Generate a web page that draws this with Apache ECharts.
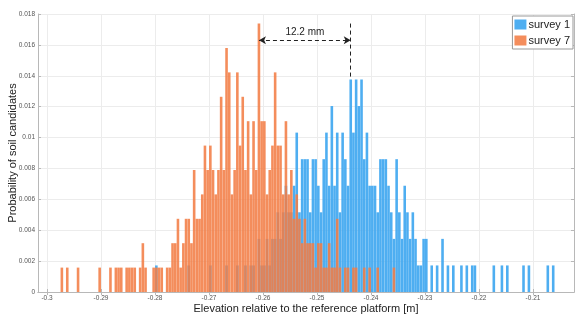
<!DOCTYPE html>
<html><head><meta charset="utf-8">
<script src="https://cdn.jsdelivr.net/npm/echarts@6/dist/echarts.min.js"></script>
<style>html,body{margin:0;padding:0;background:#fff}#c{width:575px;height:320px}</style>
</head><body><div id="c"></div>
<script>
// histogram bins
const binStart = -0.3;
const binWidth = 0.0005;

// survey 1 probabilities per bin (index 0 = first bin)
const survey1 = [
0,0,0,0,0,0,0,0,0,0,
0,0,0,0,0,0,0,0,0,0,
0,0,0,0,0,0,0,0,0,0,
0,0,0,0,0,0,0,0,0,0,
0.00172,0,0,0,0,0,0,0,0,0,
0,0,0.00172,0,0,0,0,0,0,0,
0.00172,0,0,0,0,0,0.00172,0,0,0,
0.00172,0,0,0.00172,0,0.00172,0.00172,0,0.00344,0.00172,
0.00172,0.00344,0.00172,0.00344,0.00344,0.00516,0.00344,0.00516,0.00688,0.00516,
0.00516,0.00688,0.01032,0.00516,0.0086,0.0086,0.0086,0.00516,0.0086,0.0086,
0.00688,0.00516,0.0086,0.01032,0.00688,0.01204,0.00688,0.01032,0.00516,0.01032,
0.0086,0.00688,0.01376,0.01032,0.01376,0.01204,0.01376,0.0086,0.01032,0.00688,
0.00688,0.00688,0.00516,0.0086,0.0086,0.0086,0.00688,0.00516,0.00344,0.0086,
0.00516,0.00344,0.00688,0.00516,0.00344,0.00516,0.00344,0.00172,0.00172,0.00344,
0.00344,0,0.00172,0,0.00172,0,0.00344,0,0.00172,0,
0.00172,0,0,0.00172,0,0.00172,0,0.00172,0.00172,0,
0,0,0,0,0,0.00172,0,0,0.00172,0,
0.00172,0,0,0,0,0,0.00172,0,0.00172,0,
0,0,0,0,0,0.00172,0,0.00172,0,0
];

// survey 7 probabilities per bin
const survey7 = [
0,0,0,0,0,0.00158,0,0.00158,0,0,
0,0.00158,0,0,0,0,0,0,0,0.00158,
0,0,0,0.00158,0,0.00158,0.00158,0.00158,0,0.00158,
0.00158,0.00158,0.00158,0,0.00158,0.00316,0.00158,0,0,0.00158,
0.00158,0.00158,0.00158,0,0.00158,0.00158,0.00316,0.00316,0.00474,0.00158,
0.00316,0.00474,0.00474,0.00316,0.0079,0.00474,0.00474,0.00632,0.00948,0.0079,
0.00948,0.0079,0.00632,0.0079,0.01264,0.0079,0.0158,0.01422,0.00632,0.0079,
0.01422,0.00948,0.01264,0.0079,0.01106,0.00632,0.01106,0.0079,0.01738,0.01106,
0.01106,0.00632,0.0079,0.00948,0.01422,0.00948,0.00948,0.00632,0.01106,0.00632,
0.0079,0.00474,0.00632,0.00474,0.00316,0.00474,0.00316,0.00316,0.00316,0.00158,
0.00316,0.00316,0.00158,0.00158,0.00316,0.00158,0.00158,0.00474,0.00158,0,
0.00158,0.00158,0,0.00158,0.00158,0,0,0.00158,0,0.00158,
0,0,0.00158,0,0,0,0,0,0.00158,0
];

const seriesNames = ['survey 1', 'survey 7'];
const xTicks = [-0.3, -0.29, -0.28, -0.27, -0.26, -0.25, -0.24, -0.23, -0.22, -0.21];
const xRange = [-0.30167, -0.2024];
const yRange = [0, 0.018];
const yStep = 0.002;
const annotationText = '12.2 mm';
const arrowLevel = 0.0163;

const colors = ['#45aaf0', '#f27d45'];
const font = "'Liberation Sans', Arial, sans-serif";

function toPairs(arr) {
  return arr.map((p, i) => [binStart + (i + 0.5) * binWidth, p]);
}
function argmaxX(arr) {
  let bi = 0;
  arr.forEach((v, i) => { if (v > arr[bi]) bi = i; });
  return binStart + (bi + 0.5) * binWidth;
}
const peak1X = argmaxX(survey1), peak7X = argmaxX(survey7);
const max1 = Math.max(...survey1), max7 = Math.max(...survey7);

const chart = echarts.init(document.getElementById('c'), null, {renderer: 'canvas'});
const axisColor = '#b8b8b8';
const labelStyle = {fontSize: 6.5, color: '#555', fontFamily: font};

chart.setOption({
  animation: false,
  backgroundColor: '#fff',
  textStyle: {fontFamily: font},
  grid: {left: 38, right: 1, top: 14, bottom: 28, containLabel: false, outerBoundsMode: 'none'},
  legend: {
    data: seriesNames, orient: 'vertical', right: 2, top: 16,
    itemWidth: 12, itemHeight: 10, itemGap: 5, icon: 'rect',
    padding: [3, 3, 3, 2], borderColor: '#999', borderWidth: 1, backgroundColor: '#fff',
    textStyle: {fontSize: 11, color: '#222', fontFamily: font, padding: [0, 0, 0, -3]}
  },
  xAxis: [{
    type: 'value', min: xRange[0], max: xRange[1], position: 'bottom',
    name: 'Elevation relative to the reference platform [m]',
    nameLocation: 'middle', nameGap: 11, nameMoveOverlap: false,
    nameTextStyle: {fontSize: 11, color: '#222', fontFamily: font},
    axisLine: {show: true, lineStyle: {color: axisColor}},
    axisTick: {show: true, inside: true, length: 3, customValues: xTicks, lineStyle: {color: axisColor}},
    axisLabel: {customValues: xTicks, margin: 3, ...labelStyle, formatter: v => String(+(+v).toFixed(2))},
    splitLine: {show: true, lineStyle: {color: '#ececec'}}
  }, {
    type: 'value', min: xRange[0], max: xRange[1], position: 'top',
    axisLine: {show: true, lineStyle: {color: axisColor}},
    axisTick: {show: true, inside: true, length: 3, customValues: xTicks, lineStyle: {color: axisColor}},
    axisLabel: {show: false}, splitLine: {show: false}
  }],
  yAxis: [{
    type: 'value', min: yRange[0], max: yRange[1], interval: yStep,
    name: 'Probability of soil candidates', nameLocation: 'middle', nameGap: 20, nameMoveOverlap: false,
    nameTextStyle: {fontSize: 11, color: '#222', fontFamily: font},
    axisLine: {show: true, lineStyle: {color: axisColor}},
    axisTick: {show: true, inside: true, length: 3, lineStyle: {color: axisColor}},
    axisLabel: {margin: 3, ...labelStyle, formatter: v => String(+(+v).toFixed(3))},
    splitLine: {show: true, lineStyle: {color: '#ececec'}}
  }, {
    type: 'value', min: yRange[0], max: yRange[1], interval: yStep, position: 'right',
    axisLine: {show: true, lineStyle: {color: axisColor}},
    axisTick: {show: true, inside: true, length: 3, lineStyle: {color: axisColor}},
    axisLabel: {show: false}, splitLine: {show: false}
  }],
  series: [{
    name: seriesNames[0], type: 'bar', xAxisIndex: 0, yAxisIndex: 0,
    data: toPairs(survey1), barWidth: 2.6,
    itemStyle: {color: colors[0], opacity: 0.95}
  }, {
    name: seriesNames[1], type: 'bar', xAxisIndex: 0, yAxisIndex: 0,
    data: toPairs(survey7), barWidth: 2.6, barGap: '-100%',
    itemStyle: {color: colors[1], opacity: 0.88},
    markLine: {
      silent: true, symbol: ['none', 'none'], symbolSize: [6, 7],
      lineStyle: {color: '#222', type: [4, 3], width: 1},
      data: [
        [{coord: [peak7X, arrowLevel], symbol: 'arrow',
          label: {show: true, position: 'middle', formatter: annotationText, fontSize: 10, color: '#222', distance: 3}},
         {coord: [peak1X, arrowLevel], symbol: 'arrow'}],
        [{coord: [peak1X, max7], label: {show: false}}, {coord: [peak1X, max1]}]
      ]
    }
  }]
});
</script>
</body></html>
